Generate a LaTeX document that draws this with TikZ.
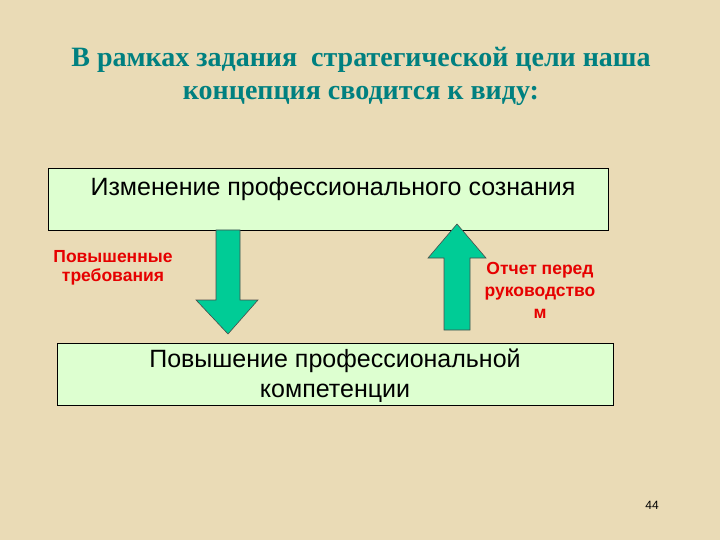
\documentclass[tikz,border=0pt]{standalone}
\usepackage{fontspec}
\setmainfont{Liberation Sans}
\newfontfamily\titlefont{Liberation Serif}
\definecolor{bg}{RGB}{234,219,182}
\definecolor{boxfill}{RGB}{221,255,208}
\definecolor{arrowfill}{RGB}{0,204,150}
\definecolor{titlecol}{RGB}{0,128,128}
\definecolor{labred}{RGB}{230,0,0}
\tikzset{
  panel/.style={draw=black, line width=0.8pt, fill=boxfill},
  bigarrow/.style={draw=black!70, line width=0.6pt, fill=arrowfill},
  lab/.style={text=labred, font=\fontsize{17.5}{22}\selectfont\bfseries, align=center},
  boxtext/.style={font=\fontsize{25}{30}\selectfont, align=center},
}
\begin{document}
\begin{tikzpicture}[x=1pt,y=-1pt]
\fill[bg] (0,0) rectangle (720,540);
\useasboundingbox (0,0) rectangle (720,540);
% title
\node (title) [font=\titlefont\fontsize{28}{33}\selectfont\bfseries, text=titlecol, align=center] at (361,76) {В рамках задания \ стратегической цели наша\\концепция сводится к виду:};
% boxes
\draw[panel] (48,168) rectangle (608,230);
\node (top) [boxtext] at (333,189) {Изменение профессионального сознания};
\draw[panel] (57,343) rectangle (613,405);
\node (bottom) [boxtext] at (335,376) {Повышение профессиональной\\компетенции};
% down arrow
\draw[bigarrow] (216,230) -- (240,230) -- (240,300) -- (258,300) -- (228,334) -- (196,300) -- (216,300) -- cycle;
% up arrow
\draw[bigarrow] (444,330) -- (470,330) -- (470,258) -- (486,258) -- (457,224) -- (428,258) -- (444,258) -- cycle;
% labels
\node (l1) [lab, font=\fontsize{17.5}{19.5}\selectfont\bfseries] at (113,268) {Повышенные\\требования};
\node (l2) [lab] at (540,290) {Отчет перед\\руководство\\м};
\node (num) [font=\fontsize{12}{14}\selectfont] at (652,505) {44};
\end{tikzpicture}
\end{document}
